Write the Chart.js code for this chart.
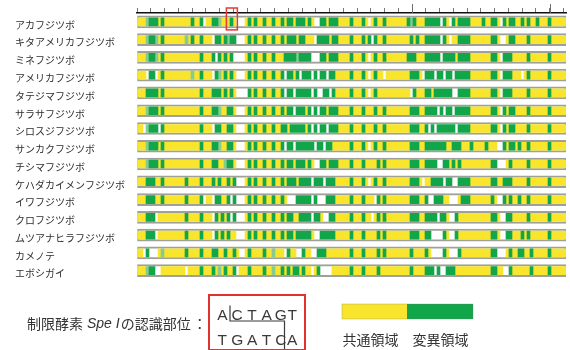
<!DOCTYPE html>
<html>
<head>
<meta charset="utf-8">
<script src="https://cdn.jsdelivr.net/npm/chart.js@4.4.1/dist/chart.umd.min.js"></script>
<style>
  html, body { margin: 0; padding: 0; background: #fff; }
  #wrap { position: relative; width: 570px; height: 350px; }
</style>
</head>
<body>
<div id="wrap"><canvas id="chart" width="570" height="350"></canvas></div>
<script>
// Species in the alignment, top to bottom
const SPECIES = [
  "アカフジツボ", "キタアメリカフジツボ", "ミネフジツボ", "アメリカフジツボ",
  "タテジマフジツボ", "サラサフジツボ", "シロスジフジツボ", "サンカクフジツボ",
  "チシマフジツボ", "ケハダカイメンフジツボ", "イワフジツボ", "クロフジツボ",
  "ムツアナヒラフジツボ", "カメノテ", "エボシガイ"
];

// Alignment columns per species (left to right):
// y = conserved, g = variable, l = weakly variable, w = gap
const PATTERNS = [
  "yyylgggygy yyyyyyyygy ygwyygglyy ygywwwygyg yygyygy | ygyggygggy gywwggyggg yyyygyyygy wygyygyyyy yyyglgyy | ygggggwgyw gyggggyyyy gyyggywgyg gyygygyygy yygyyyyy",
  "yyylgglygy yyyyyylygy ygyyywggyg lggwwwygyg yygyygy | ygygggyggy yywggggygg yyyygyyygy gwgyygyyyy yyyygygy | ygggggwgyw yyggggyyyy yyyggywwyg gyyyygyyyy yygyyyyy",
  "yyylgglygy yyyyyyyyyy ygyyygwgyg ygwwwwygyg yygyygy | yygggglggg gwwwggyggg yyyygyyygy wygyygyyyy yyygggyy | ygggggwggg gyggggyyyy yyyggywggg yyyyygyyyy yygyyyyy",
  "yyywggwygy yyyyyyyyly ygyyywglyg ygywwwygyg yygyygy | ygwggygwgg gwgwggwggy yyyygyyygy wygyywyyyy yyyygggy | wgggwggwgg wgggggyyyy yyyggywggg yyywygyyyy yygyyyyy",
  "yyyggggygy yyyyyyyyyy ygyyygggyg ygywwwwgyg yygyygy | ygwggwgggg gwgwwggwgy yyyygyyygy wygyyyyyyy yyyywgyy | yggygggggg wwggggyyyy yyyggywggg yyyyygyyyy yygyyyyy",
  "yyylgggygy yyyyyyyyyy ygyyygglyy ggywwwygyg yygyygy | ygyggwgggy gwgwggyggg yyyygyyygy yygyygyyyy yyyygggy | yggggwgwgg wgggggyyyy yyyggywgyg gyyyygyyyy yygyyyyy",
  "yywlgggwgy yyyyyyyyyy ygyyywggyy ggywwwygyg yygyygy | yggygggggy gwgwggwggg yyyygyyygy yygyygyyyy yyyygggy | ygwgwggggg gwggggyyyy yyyggywgyg gyyyygyyyy yygyyyyy",
  "yyylgggygy yyyyyyyyyy ygyyygglyy ggywwwygyg yygyygy | ygwggwgggg ggwggwggyy yyyygyyygy wygyygyyyy yyyygggy | ygggggggyy gggyyygyyy ygyyywwgyg gygyygyyyy yygyyyyy",
  "yyylgggygy yyyyyyyyyy ygyyyggyyl ggywwwygyg yygyygy | ygyggygggy gywwggyggg yyyygyyygy yyygygyyyy yyyygggy | yggggwwggy gygyyyyyyy yyyggwwwyg yyyyygyyyy yygyyyyy",
  "yyygggyygy yyyyyygyyy ygyyygygyy gygwwwygyg yygyygy | ygygggyggg gwgggwgggy yyyygyyygy wygyygyyyy yyyygggy | wyyggggwgg wwggggyyyy yyyggyyggg yyyyygyyyy yygyyyyy",
  "yyygggyygy yyyyyygyyy ygwyywggyy gwgwwwygyg yygyygy | ygywwwgggg gwgwwwgggy yyyygyyygy yywgygyyyy yyyygggy | ygwwgggyyw wwygggyyyy yyygywwgyg yygyygyyyy yygyyyyy",
  "yyygggwyyy yyyyyygyyy ygyyywgygy gwgwwwygyg yygyygy | ygyggyyggg gwggywwggy yyyygyyygy ywygygyyyy yyyygggy | yggggwggyw wgyyyyyyyy yyyggywwgg yyyyygyyyy yygyyyyy",
  "yyygggwyyy yyyyyygyyy ygyyywgygy gyywwwygyg yygyygy | ygyggygggg gywwgggggy yyyygyyygy yyygygyyyy yyyygggy | yggwwwwgyw wgyyyyyyyy yyyggywwgg yyygygyyyy yygyyyyy",
  "yywgwwwyly yyyyyygyyy ygyyyggyyg yygywwygyy yygyyly | yywgyywwgy ywwgggyyyy yyyygyyygy yyygygyyyy yyyygyyy | ygywwwwgyw wwgyyyyyyy yyyggwwwyg yyggyygyyy yygyyyyy",
  "yyylggwwyy yyyyyywyyy ygyyygylyg yygwyyygyy yygyyly | ygygyggygy ywygwwwwyy yyyygyyygy yyygyyyyyy yyyygyyy | ygggwgwwgg gyyyyyyyyy yyyggyywwg yyyyyygyyy yygyyyyy"
];

const ALIGN_LENGTH = 312;                 // aligned length, bp
const RULER_TICKS = [0, 10, 20, 30, 40, 50, 60, 70, 80, 90, 100, 110, 120, 130, 140, 150,
                     160, 170, 180, 190, 200, 210, 220, 230, 240, 250, 260, 270, 280, 290, 300, 310];
const RULER_MAJOR = [200, 300];
const SPE_SITE = [65, 73];                // SpeI site position on the first sequence, bp
const SPE_TOP = ["A", "C", "T", "A", "G", "T"];
const SPE_BOTTOM = ["T", "G", "A", "T", "C", "A"];
const LEGEND_LABELS = ["共通領域", "変異領域"];

const YELLOW = "#f8e52c";
const GREEN = "#12a64b";
const LIGHT_GREEN = "#86cc8e";

// turn each species' columns into floating bars [start, end] for one column type
function runsFor(code) {
  const out = [];
  PATTERNS.forEach((p, r) => {
    const cols = p.replace(/[\s|]/g, "");
    const w = ALIGN_LENGTH / cols.length;
    let i = 0;
    while (i < cols.length) {
      let j = i;
      while (j < cols.length && cols[j] === cols[i]) j++;
      if (cols[i] === code) out.push({ y: SPECIES[r], x: [i * w, j * w] });
      i = j;
    }
  });
  return out;
}

const CJK = "'Noto Sans CJK JP', sans-serif";
const LATIN = "'Liberation Sans', Arial, sans-serif";

const overlay = {
  id: "overlay",
  afterDraw(chart) {
    const ctx = chart.ctx;
    const xs = chart.scales.x, ys = chart.scales.y;
    const top = chart.chartArea.top;
    ctx.save();

    // longer ruler marks every 100 bp
    ctx.strokeStyle = "#6f6f6f";
    ctx.lineWidth = 1;
    RULER_MAJOR.forEach(v => {
      const x = Math.round(xs.getPixelForValue(v)) + 0.5;
      ctx.beginPath(); ctx.moveTo(x, top - 9); ctx.lineTo(x, top); ctx.stroke();
    });

    // SpeI site marker on the first sequence
    const sx1 = xs.getPixelForValue(SPE_SITE[0]);
    const sx2 = xs.getPixelForValue(SPE_SITE[1]);
    const rowY = ys.getPixelForValue(0);
    ctx.strokeStyle = "#e23b36";
    ctx.lineWidth = 1.5;
    ctx.strokeRect(sx1, top - 5, sx2 - sx1, rowY + 8 - (top - 5));

    // caption
    ctx.fillStyle = "#333";
    ctx.textBaseline = "middle";
    ctx.textAlign = "left";
    let x = 27; const cy = 324;
    ctx.font = "14px " + CJK;
    ctx.fillText("制限酵素", x, cy); x += ctx.measureText("制限酵素").width + 4;
    ctx.font = "italic 14px " + LATIN;
    ctx.fillText("Spe I", x, cy); x += ctx.measureText("Spe I").width + 1;
    ctx.font = "14px " + CJK;
    ctx.fillText("の認識部位", x, cy); x += ctx.measureText("の認識部位").width + 2;
    ctx.fillText("：", x, cy);

    // recognition sequence box
    ctx.strokeStyle = "#e0332f";
    ctx.lineWidth = 2;
    ctx.strokeRect(209, 295, 96, 55);
    ctx.font = "15.5px " + LATIN;
    ctx.textAlign = "center";
    ctx.fillStyle = "#3a3a3a";
    const lx = [222.3, 237.2, 252.1, 266.6, 280.8, 292.2];
    SPE_TOP.forEach((c, i) => ctx.fillText(c, lx[i], 315.5));
    SPE_BOTTOM.forEach((c, i) => ctx.fillText(c, lx[i], 340.5));
    // cut line
    ctx.strokeStyle = "#3a3a3a";
    ctx.lineWidth = 1.2;
    ctx.beginPath();
    ctx.moveTo(230, 305.5); ctx.lineTo(230, 321); ctx.lineTo(284.5, 321); ctx.lineTo(284.5, 349);
    ctx.stroke();

    // colour key
    const ds = chart.data.datasets;
    ctx.fillStyle = ds[1].backgroundColor;
    ctx.fillRect(342, 304, 65, 15);
    ctx.fillStyle = ds[2].backgroundColor;
    ctx.fillRect(407, 304, 66, 15);
    ctx.strokeStyle = "rgba(120,120,120,0.5)";
    ctx.lineWidth = 0.6;
    ctx.strokeRect(342, 304, 131, 15);
    ctx.fillStyle = "#333";
    ctx.font = "14px " + CJK;
    ctx.fillText(LEGEND_LABELS[0], 370.5, 340);
    ctx.fillText(LEGEND_LABELS[1], 440.5, 340);
    ctx.restore();
  }
};

new Chart(document.getElementById("chart"), {
  type: "bar",
  data: {
    labels: SPECIES,
    datasets: [
      {
        label: "frame",
        data: SPECIES.map(s => ({ y: s, x: [0, ALIGN_LENGTH] })),
        backgroundColor: "#ffffff",
        borderColor: "#a0a09a",
        borderWidth: 2,
        borderSkipped: false,
        maxBarThickness: 12,
        order: 3
      },
      { label: LEGEND_LABELS[0], data: runsFor("y"), backgroundColor: YELLOW, maxBarThickness: 8, order: 2 },
      { label: LEGEND_LABELS[1], data: runsFor("g"), backgroundColor: GREEN, maxBarThickness: 8, order: 1 },
      { label: "weak", data: runsFor("l"), backgroundColor: LIGHT_GREEN, maxBarThickness: 8, order: 1 }
    ]
  },
  options: {
    indexAxis: "y",
    responsive: false,
    animation: false,
    layout: { padding: { left: 15, top: 8, right: 4, bottom: 70.5 } },
    datasets: { bar: { grouped: false, barPercentage: 1, categoryPercentage: 1 } },
    plugins: { legend: { display: false }, tooltip: { enabled: false } },
    scales: {
      x: {
        type: "linear",
        position: "top",
        min: 0,
        max: ALIGN_LENGTH,
        afterBuildTicks: s => { s.ticks = RULER_TICKS.map(v => ({ value: v })); },
        ticks: { display: false },
        grid: { drawOnChartArea: false, drawTicks: true, tickLength: 5, tickColor: "#777", tickWidth: 1 },
        border: { display: true, color: "#111", width: 1.5 }
      },
      y: {
        type: "category",
        position: "left",
        offset: true,
        grid: { display: false },
        border: { display: false },
        afterFit: s => { s.width = 122; },
        ticks: {
          crossAlign: "far",
          labelOffset: 3,
          padding: 0,
          autoSkip: false,
          color: "#2e2e2e",
          font: { family: CJK, size: 10 }
        }
      }
    }
  },
  plugins: [overlay]
});
</script>
</body>
</html>
